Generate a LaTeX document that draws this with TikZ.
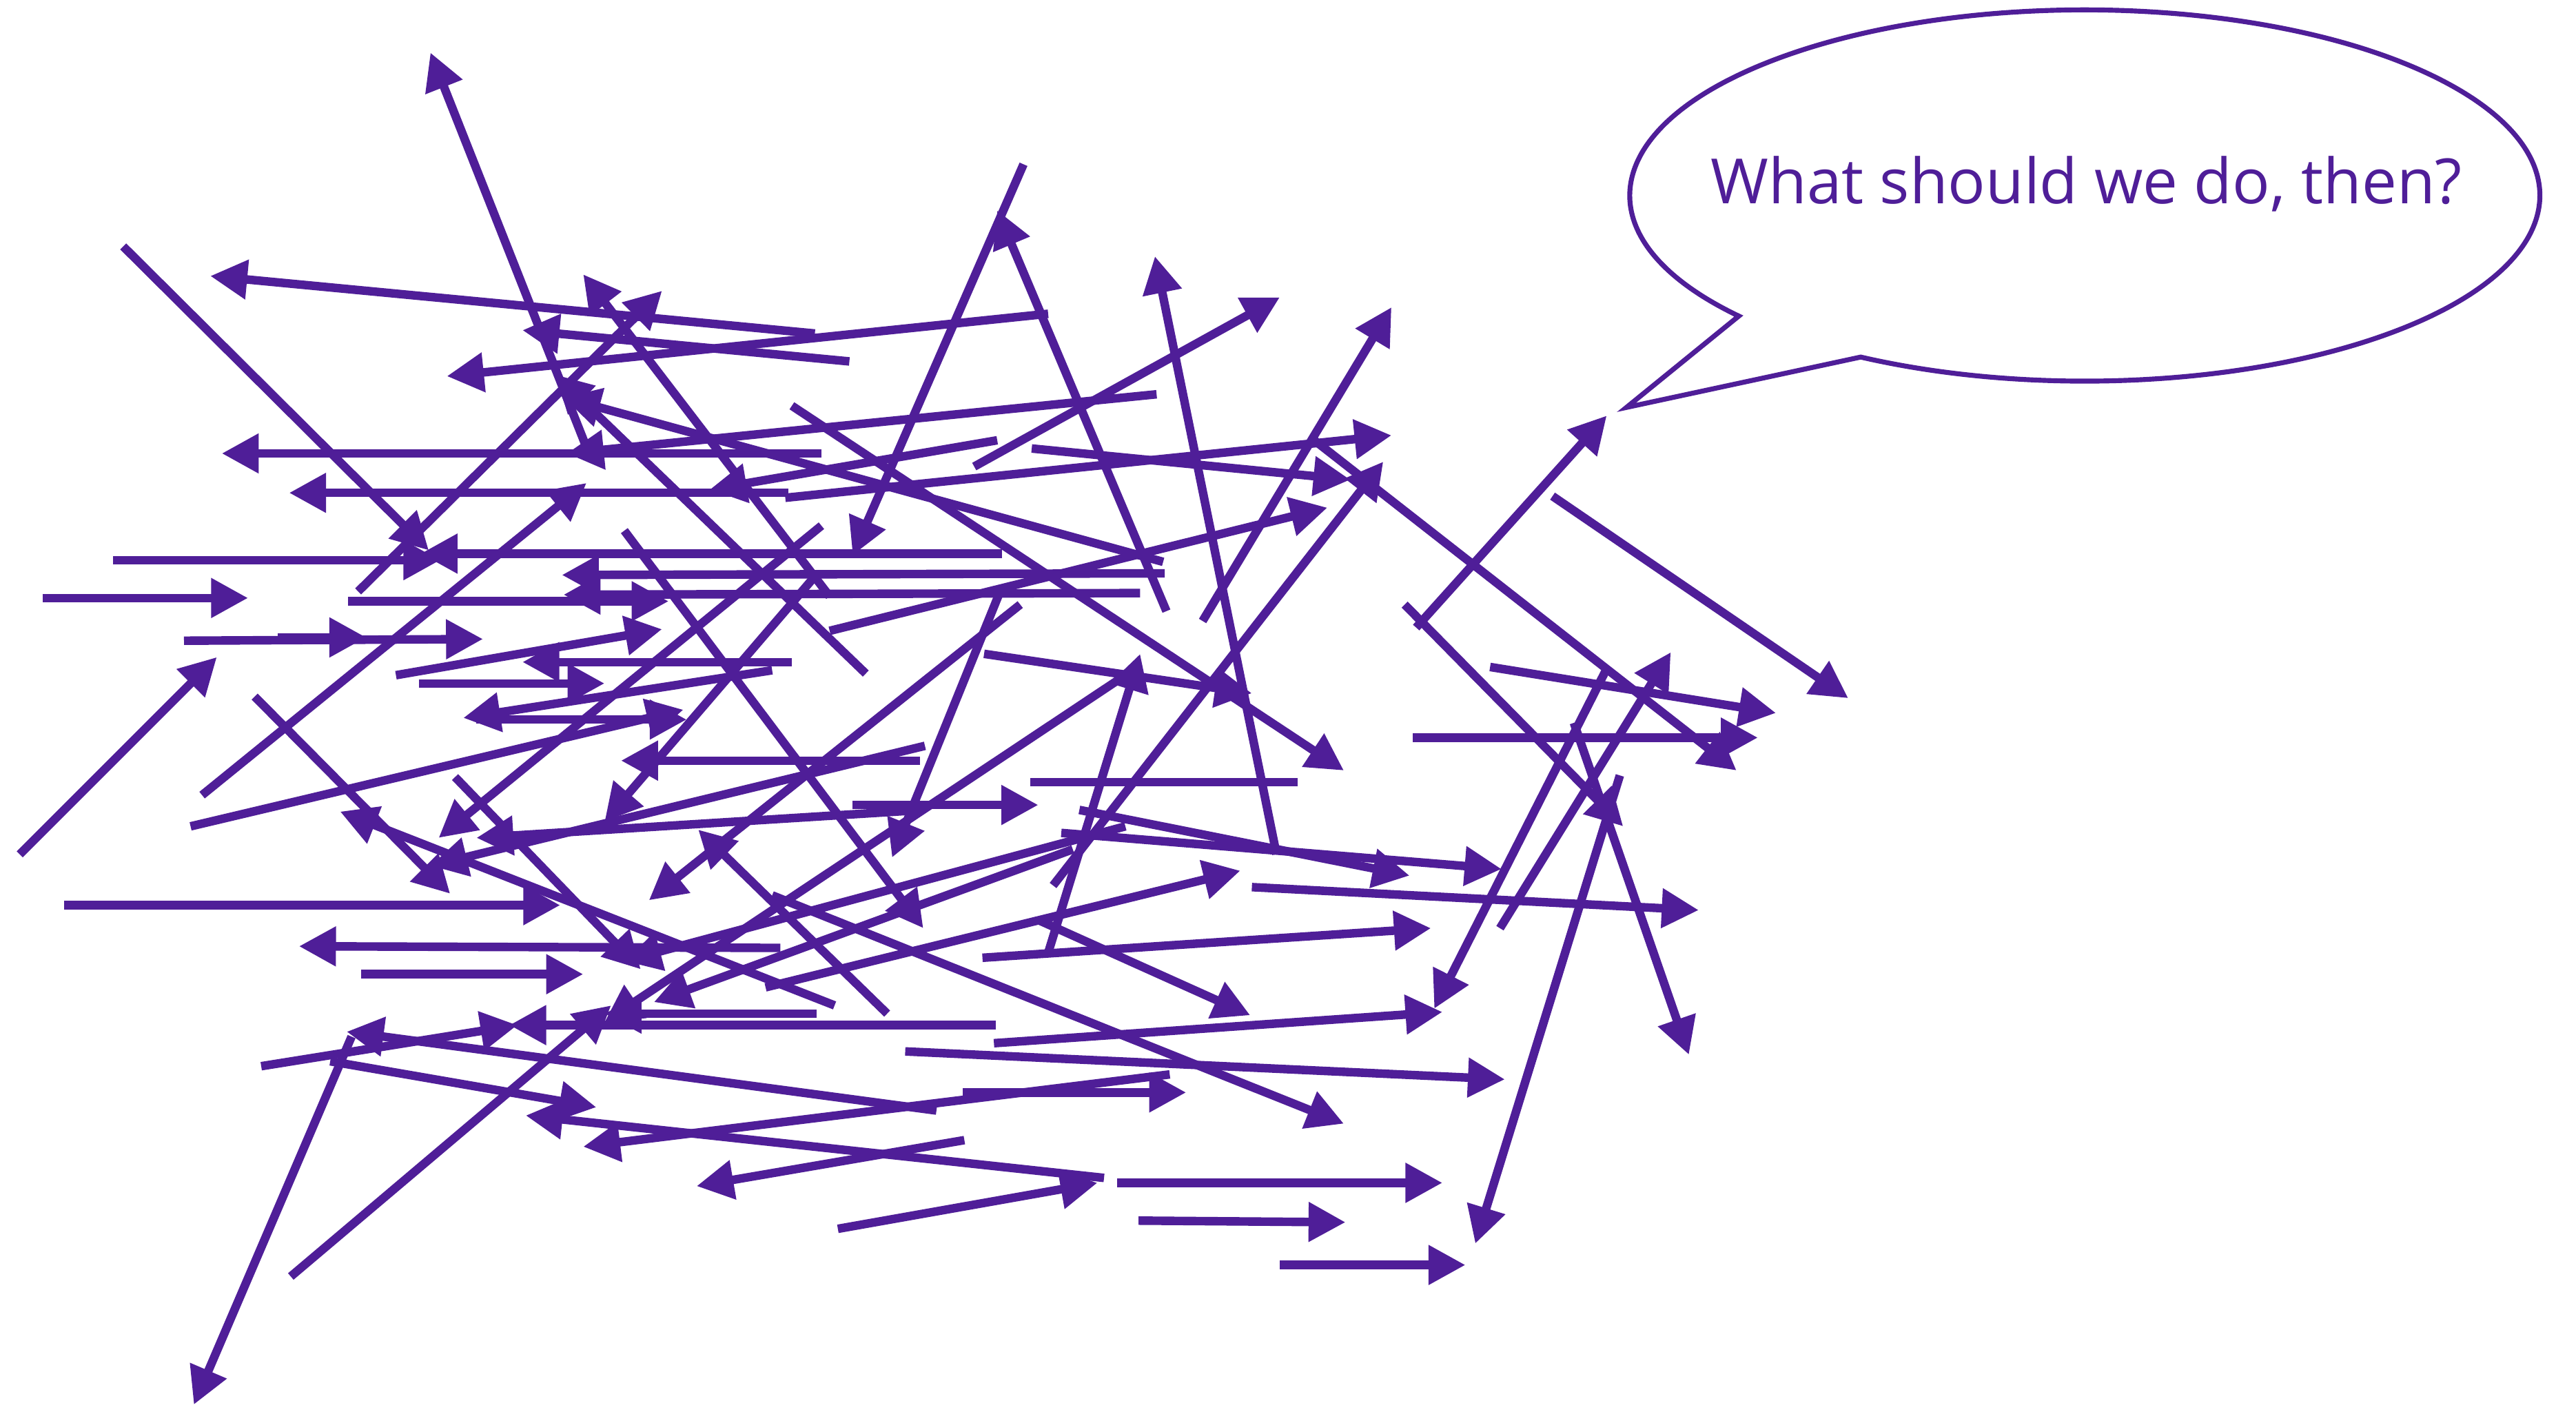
\documentclass[tikz,border=0pt]{standalone}
\usepackage{fontspec}
\usetikzlibrary{arrows.meta}
\newfontfamily\bubblefont{Open Sans}
\definecolor{purp}{HTML}{4F1E98}
\tikzset{
  arr/.style={draw=purp, line width=5.2pt, -{Triangle[length=22.5pt,width=23pt]}},
  seg/.style={draw=purp, line width=5.2pt},
  bubble/.style={draw=purp, line width=3pt, fill=white, line join=miter},
  saying/.style={text=purp, font=\bubblefont\fontsize{38}{42}\selectfont, inner sep=0pt}
}
\begin{document}
\begin{tikzpicture}[x=1pt,y=-1pt]
\useasboundingbox (0,0) rectangle (1568,859.5);
% upper band
\draw[arr] (360,280) -- (262,32);
\draw[arr] (496,203) -- (128,168);
\draw[arr] (517,220) -- (318,201);
\draw[arr] (638,191) -- (272,229);
\draw[arr] (218,360) -- (403,177);
\draw[arr] (505,363) -- (355,167);
\draw[arr] (623,100) -- (519,338);
\draw[arr] (710,372) -- (607,128);
\draw[arr] (777,520) -- (703,156);
\draw[arr] (593,284) -- (779,181);
\draw[arr] (732,378) -- (847,187);
\draw[arr] (75,150) -- (261,335);
\draw[arr] (500,276) -- (135,276);
\draw[arr] (480,300) -- (176,300);
\draw[arr] (704,240) -- (345,276);
\draw[arr] (708,342) -- (343,242);
\draw[arr] (527,410) -- (338,228);
\draw[arr] (482,247) -- (818,469);
\draw[arr] (628,273) -- (822,292);
\draw[arr] (478,303) -- (847,265);
\draw[arr] (800,268) -- (1057,469);
\draw[arr] (862,382) -- (978,253);
\draw[arr] (945,302) -- (1125,425);
\draw[arr] (607,268) -- (432,298);
% middle band
\draw[arr] (69,341) -- (268,341);
\draw[arr] (610,337) -- (256,337);
\draw[arr] (709,349) -- (342,350);
\draw[arr] (694,361) -- (343,362);
\draw[arr] (212,366) -- (407,366);
\draw[arr] (26,364) -- (151,364);
\draw[arr] (112,390) -- (294,389);
\draw[arr] (169,388) -- (223,388);
\draw[arr] (12,520) -- (132,400);
\draw[arr] (241,411) -- (403,383);
\draw[arr] (482,403) -- (318,403);
\draw[arr] (255,416) -- (368,416);
\draw[arr] (470,408) -- (282,437);
\draw[arr] (290,438) -- (418,438);
\draw[arr] (116,503) -- (416,432);
\draw[arr] (123,484) -- (357,294);
\draw[arr] (155,424) -- (274,544);
\draw[arr] (508,612) -- (207,494);
\draw[arr] (500,320) -- (267,510);
\draw[arr] (562,493) -- (290,510);
\draw[arr] (563,454) -- (262,527);
\draw[arr] (39,551) -- (341,551);
\draw[arr] (599,398) -- (762,422);
\draw[arr] (505,384) -- (808,309);
\draw[arr] (621,368) -- (395,548);
\draw[arr] (380,323) -- (562,565);
\draw[arr] (610,357) -- (543,522);
\draw[arr] (495,352) -- (368,500);
\draw[arr] (560,463) -- (378,463);
\draw[seg] (790,476) -- (627,476);
\draw[arr] (519,490) -- (632,490);
\draw[arr] (277,473) -- (390,590);
% right cluster
\draw[arr] (860,449) -- (1070,449);
\draw[arr] (907,406) -- (1081,434);
\draw[arr] (855,368) -- (988,503);
\draw[arr] (978,407) -- (873,614);
\draw[arr] (913,565) -- (1017,397);
\draw[arr] (958,440) -- (1028,642);
\draw[arr] (986,472) -- (898,757);
\draw[arr] (762,540) -- (1034,554);
\draw[arr] (646,507) -- (914,529);
\draw[arr] (657,493) -- (858,533);
\draw[arr] (641,539) -- (842,281);
\draw[arr] (638,580) -- (694,398);
\draw[arr] (688,409) -- (368,622);
% lower band
\draw[arr] (598,583) -- (871,565);
\draw[arr] (605,635) -- (878,616);
\draw[arr] (551,640) -- (916,657);
\draw[arr] (470,545) -- (818,684);
\draw[arr] (632,560) -- (761,618);
\draw[arr] (586,665) -- (722,665);
\draw[arr] (680,720) -- (878,720);
\draw[arr] (693,743) -- (819,744);
\draw[arr] (779,770) -- (892,770);
\draw[arr] (510,748) -- (668,720);
\draw[arr] (587,694) -- (424,722);
\draw[arr] (712,654) -- (355,698);
\draw[arr] (672,717) -- (320,679);
\draw[arr] (201,646) -- (363,674);
\draw[arr] (214,631) -- (118,855);
\draw[arr] (570,676) -- (211,628);
\draw[arr] (220,593) -- (355,593);
\draw[arr] (475,577) -- (182,576);
\draw[arr] (177,777) -- (372,612);
\draw[arr] (159,649) -- (315,624);
\draw[arr] (606,624) -- (310,624);
\draw[arr] (497,617) -- (368,617);
\draw[arr] (540,617) -- (425,505);
\draw[arr] (653,517) -- (398,610);
\draw[arr] (685,503) -- (380,585);
\draw[arr] (466,601) -- (755,530);
% speech bubble
\draw[bubble] (990,248) -- ([shift={(1269,119)}]139.5:277 and 113)
  arc[start angle=139.5, end angle=479.5, x radius=277, y radius=113] -- cycle;
\node[saying, anchor=base] (q) at (1270,124) {What should we do, then?};
\end{tikzpicture}
\end{document}
